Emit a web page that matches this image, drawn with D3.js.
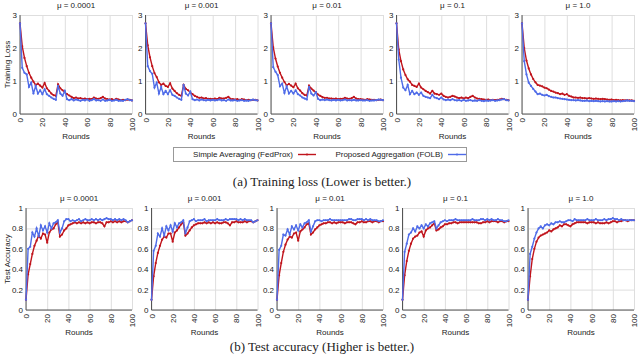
<!DOCTYPE html>
<html>
<head>
<meta charset="utf-8">
<script src="https://cdnjs.cloudflare.com/ajax/libs/d3/7.8.5/d3.min.js"></script>
<style>
body { margin: 0; background: #fff; }
text { font-family: "Liberation Sans", Arial, sans-serif; fill: #222; }
.caption { font-family: "Liberation Serif", "Times New Roman", serif; }
</style>
</head>
<body>
<script>
// rounds sampled every 2
const rounds = d3.range(0, 101, 2);
const muLabels = ["μ = 0.0001", "μ = 0.001", "μ = 0.01", "μ = 0.1", "μ = 1.0"];
const xTicks = [0, 20, 40, 60, 80, 100];
const lossTicks = [0, 1, 2, 3];
const accTicks = [0, 0.2, 0.4, 0.6, 0.8, 1];
const seriesNames = ["Simple Averaging (FedProx)", "Proposed Aggregation (FOLB)"];

// training loss
const lossProx1 = [2.75,2.05,1.70,1.45,1.25,1.10,0.98,0.88,0.92,0.86,
  0.80,0.94,0.78,0.70,0.62,0.57,0.55,0.90,0.78,0.72,
  0.66,0.60,0.56,0.52,0.48,0.50,0.47,0.48,0.46,0.47,
  0.45,0.46,0.45,0.50,0.47,0.46,0.48,0.52,0.47,0.45,
  0.44,0.45,0.43,0.46,0.44,0.42,0.43,0.42,0.44,0.43,0.41];
const lossFolb1 = [2.75,1.40,1.25,1.20,0.82,0.95,0.62,0.85,0.62,0.72,
  0.60,0.75,0.60,0.55,0.50,0.46,0.43,0.85,0.62,0.55,
  0.70,0.45,0.42,0.45,0.41,0.44,0.42,0.40,0.43,0.41,
  0.44,0.40,0.42,0.45,0.41,0.42,0.40,0.44,0.40,0.41,
  0.43,0.40,0.41,0.43,0.40,0.41,0.40,0.43,0.45,0.42,0.41];
const lossProx2 = [2.75,2.08,1.72,1.45,1.24,1.12,0.96,0.88,0.92,0.85,
  0.82,0.93,0.77,0.70,0.63,0.58,0.55,0.88,0.76,0.72,
  0.65,0.60,0.55,0.52,0.49,0.50,0.47,0.48,0.46,0.46,
  0.45,0.47,0.45,0.49,0.47,0.47,0.49,0.52,0.46,0.45,
  0.44,0.45,0.43,0.45,0.44,0.42,0.43,0.42,0.43,0.43,0.41];
const lossFolb2 = [2.75,1.45,1.30,1.22,0.80,0.95,0.62,0.82,0.60,0.70,
  0.60,0.72,0.58,0.55,0.50,0.46,0.43,0.88,0.62,0.56,
  0.68,0.45,0.42,0.44,0.41,0.44,0.42,0.41,0.43,0.41,
  0.43,0.41,0.42,0.44,0.41,0.42,0.40,0.44,0.41,0.41,
  0.42,0.40,0.41,0.42,0.40,0.41,0.40,0.42,0.44,0.42,0.41];
const lossProx3 = [2.75,2.02,1.68,1.44,1.25,1.10,0.97,0.87,0.91,0.86,
  0.81,0.92,0.78,0.71,0.63,0.58,0.56,0.86,0.77,0.71,
  0.66,0.59,0.55,0.51,0.49,0.49,0.47,0.47,0.46,0.47,
  0.45,0.46,0.46,0.49,0.47,0.46,0.48,0.52,0.47,0.45,
  0.45,0.44,0.43,0.45,0.44,0.43,0.43,0.42,0.43,0.44,0.42];
const lossFolb3 = [2.75,1.42,1.28,1.18,0.84,0.92,0.64,0.84,0.62,0.70,
  0.62,0.72,0.60,0.56,0.50,0.47,0.44,0.82,0.62,0.56,
  0.66,0.46,0.42,0.44,0.42,0.44,0.42,0.41,0.43,0.41,
  0.43,0.41,0.42,0.44,0.41,0.42,0.41,0.43,0.41,0.41,
  0.42,0.41,0.41,0.42,0.40,0.41,0.41,0.42,0.44,0.43,0.42];
const lossProx4 = [2.75,1.95,1.60,1.35,1.18,1.05,0.98,0.88,0.85,0.82,
  0.92,0.80,0.75,0.70,0.66,0.62,0.70,0.62,0.60,0.58,
  0.62,0.55,0.52,0.50,0.52,0.55,0.53,0.50,0.48,0.50,
  0.47,0.50,0.48,0.52,0.55,0.50,0.47,0.46,0.45,0.44,
  0.43,0.44,0.42,0.43,0.42,0.43,0.44,0.46,0.45,0.43,0.42];
const lossFolb4 = [2.75,1.65,1.10,0.80,0.72,0.88,0.60,0.70,0.60,0.65,
  0.58,0.65,0.55,0.52,0.50,0.48,0.58,0.50,0.48,0.45,
  0.50,0.44,0.42,0.44,0.42,0.45,0.42,0.41,0.42,0.40,
  0.43,0.40,0.41,0.42,0.40,0.41,0.40,0.42,0.40,0.39,
  0.41,0.40,0.41,0.42,0.40,0.41,0.42,0.44,0.45,0.42,0.41];
const lossProx5 = [2.75,2.00,1.62,1.38,1.20,1.06,0.96,0.88,0.86,0.84,
  0.80,0.78,0.74,0.70,0.68,0.65,0.63,0.60,0.62,0.58,
  0.60,0.55,0.53,0.50,0.50,0.49,0.50,0.48,0.48,0.47,
  0.48,0.47,0.46,0.47,0.46,0.45,0.46,0.45,0.44,0.43,
  0.44,0.42,0.43,0.42,0.41,0.42,0.41,0.42,0.41,0.41,0.40];
const lossFolb5 = [2.75,1.60,1.20,0.95,0.85,0.76,0.68,0.60,0.62,0.58,
  0.56,0.58,0.54,0.52,0.50,0.50,0.48,0.47,0.46,0.45,
  0.44,0.43,0.42,0.42,0.41,0.42,0.41,0.40,0.40,0.41,
  0.39,0.40,0.39,0.40,0.39,0.38,0.39,0.38,0.39,0.38,
  0.38,0.39,0.38,0.39,0.38,0.39,0.40,0.41,0.40,0.40,0.39];

// test accuracy
const accProx1 = [0.10,0.35,0.45,0.55,0.63,0.68,0.73,0.70,0.75,0.74,
  0.66,0.76,0.79,0.80,0.84,0.86,0.72,0.74,0.78,0.80,
  0.83,0.84,0.85,0.86,0.85,0.86,0.85,0.86,0.85,0.86,
  0.85,0.86,0.86,0.85,0.86,0.86,0.85,0.82,0.86,0.86,
  0.87,0.86,0.87,0.86,0.87,0.86,0.87,0.87,0.86,0.87,0.88];
const accFolb1 = [0.10,0.60,0.62,0.76,0.72,0.80,0.72,0.83,0.78,0.82,
  0.76,0.85,0.80,0.85,0.86,0.88,0.76,0.80,0.87,0.89,
  0.89,0.87,0.88,0.87,0.88,0.89,0.87,0.88,0.89,0.88,
  0.88,0.89,0.88,0.89,0.88,0.89,0.88,0.89,0.90,0.89,
  0.89,0.88,0.89,0.88,0.89,0.88,0.89,0.88,0.86,0.87,0.88];
const accProx2 = [0.10,0.33,0.46,0.56,0.63,0.69,0.72,0.71,0.75,0.75,
  0.67,0.76,0.78,0.81,0.84,0.86,0.73,0.75,0.78,0.81,
  0.83,0.84,0.85,0.85,0.85,0.86,0.85,0.86,0.85,0.86,
  0.85,0.86,0.85,0.85,0.86,0.86,0.85,0.83,0.86,0.86,
  0.87,0.86,0.86,0.86,0.87,0.86,0.87,0.87,0.86,0.87,0.88];
const accFolb2 = [0.10,0.58,0.63,0.75,0.72,0.80,0.73,0.82,0.78,0.83,
  0.77,0.85,0.81,0.85,0.86,0.88,0.75,0.81,0.87,0.88,
  0.89,0.87,0.88,0.88,0.88,0.89,0.87,0.88,0.88,0.88,
  0.88,0.89,0.88,0.88,0.88,0.89,0.88,0.89,0.89,0.89,
  0.89,0.88,0.89,0.88,0.89,0.88,0.88,0.88,0.86,0.87,0.88];
const accProx3 = [0.10,0.34,0.46,0.57,0.64,0.69,0.72,0.71,0.75,0.76,
  0.68,0.77,0.79,0.81,0.84,0.85,0.74,0.76,0.79,0.81,
  0.83,0.84,0.85,0.85,0.86,0.86,0.85,0.86,0.85,0.86,
  0.86,0.86,0.85,0.86,0.86,0.86,0.85,0.84,0.86,0.86,
  0.87,0.86,0.86,0.87,0.87,0.86,0.87,0.87,0.86,0.87,0.87];
const accFolb3 = [0.10,0.59,0.63,0.74,0.73,0.79,0.74,0.82,0.79,0.83,
  0.78,0.84,0.81,0.85,0.86,0.88,0.77,0.82,0.87,0.88,
  0.88,0.87,0.88,0.88,0.88,0.89,0.88,0.88,0.88,0.88,
  0.88,0.88,0.88,0.88,0.89,0.89,0.88,0.88,0.89,0.89,
  0.89,0.88,0.89,0.88,0.89,0.88,0.88,0.88,0.87,0.87,0.88];
const accProx4 = [0.10,0.34,0.48,0.58,0.65,0.70,0.72,0.73,0.76,0.77,
  0.72,0.78,0.80,0.81,0.83,0.85,0.78,0.79,0.81,0.82,
  0.84,0.84,0.85,0.85,0.86,0.86,0.85,0.86,0.86,0.86,
  0.86,0.86,0.86,0.86,0.86,0.86,0.85,0.85,0.86,0.86,
  0.87,0.86,0.87,0.87,0.87,0.86,0.87,0.87,0.86,0.87,0.87];
const accFolb4 = [0.10,0.57,0.65,0.74,0.76,0.80,0.77,0.82,0.80,0.83,
  0.80,0.84,0.82,0.85,0.86,0.87,0.80,0.83,0.86,0.87,
  0.88,0.87,0.88,0.88,0.88,0.89,0.88,0.88,0.88,0.88,
  0.88,0.88,0.88,0.89,0.88,0.88,0.88,0.89,0.89,0.88,
  0.89,0.88,0.89,0.88,0.88,0.89,0.88,0.88,0.87,0.87,0.88];
const accProx5 = [0.10,0.33,0.50,0.60,0.67,0.71,0.73,0.74,0.75,0.76,
  0.78,0.77,0.79,0.80,0.81,0.83,0.82,0.84,0.84,0.83,
  0.82,0.84,0.85,0.86,0.86,0.86,0.86,0.86,0.85,0.86,
  0.86,0.86,0.85,0.86,0.85,0.85,0.85,0.86,0.85,0.86,
  0.87,0.87,0.86,0.87,0.87,0.88,0.88,0.87,0.88,0.88,0.88];
const accFolb5 = [0.10,0.55,0.62,0.70,0.76,0.80,0.82,0.80,0.83,0.84,
  0.83,0.85,0.84,0.86,0.86,0.87,0.86,0.86,0.87,0.88,
  0.88,0.87,0.89,0.88,0.88,0.88,0.88,0.88,0.89,0.88,
  0.88,0.88,0.89,0.88,0.88,0.88,0.89,0.88,0.89,0.89,
  0.90,0.89,0.89,0.88,0.89,0.88,0.88,0.88,0.88,0.88,0.88];

const proxColor = "#c0141c";
const folbColor = "#4f6be8";

const svg = d3.select("body").append("svg")
            .attr("width", 640)
            .attr("height", 363);

const rows = [
  {top: 15, bottom: 114, left: 20, width: 112, yMax: 3, ticks: lossTicks,
   fmt: d3.format("d"), label: "Training Loss", titleY: 8, roundsY: 139,
   prox: [lossProx1, lossProx2, lossProx3, lossProx4, lossProx5],
   folb: [lossFolb1, lossFolb2, lossFolb3, lossFolb4, lossFolb5]},
  {top: 208, bottom: 310, left: 26, width: 106, yMax: 1, ticks: accTicks,
   fmt: d => (d === 0 || d === 1) ? d : d3.format(".1f")(d), label: "Test Accuracy", titleY: 201, roundsY: 335,
   prox: [accProx1, accProx2, accProx3, accProx4, accProx5],
   folb: [accFolb1, accFolb2, accFolb3, accFolb4, accFolb5]}
];
const step = 125.5;

rows.forEach(function(row) {
  muLabels.forEach(function(mu, p) {
    const left = row.left + p * step;
    const x = d3.scaleLinear().domain([0, 100]).range([left, left + row.width]);
    const y = d3.scaleLinear().domain([0, row.yMax]).range([row.bottom, row.top]);
    const g = svg.append("g");

    // grid + x labels
    g.append("g")
     .attr("transform", `translate(0, ${row.bottom})`)
     .call(d3.axisBottom(x).tickValues(xTicks).tickSize(-(row.bottom - row.top)))
     .call(a => a.select(".domain").remove())
     .call(a => a.selectAll("line").attr("stroke", "#dedede"))
     .selectAll("text")
     .attr("transform", "rotate(-90)")
     .attr("x", -4).attr("y", 0).attr("dy", "0.32em")
     .style("text-anchor", "end")
     .style("font-size", "8px");

    g.append("g")
     .attr("transform", `translate(${left}, 0)`)
     .call(d3.axisLeft(y).tickValues(row.ticks).tickFormat(row.fmt)
           .tickSize(-row.width).tickPadding(3))
     .call(a => a.select(".domain").remove())
     .call(a => a.selectAll("line").attr("stroke", "#dedede"))
     .selectAll("text").style("font-size", "8px");

    // axis lines
    g.append("line").attr("x1", left).attr("x2", left)
     .attr("y1", row.top).attr("y2", row.bottom).attr("stroke", "#555");
    g.append("line").attr("x1", left).attr("x2", left + row.width)
     .attr("y1", row.bottom).attr("y2", row.bottom).attr("stroke", "#555");

    // title
    g.append("text").attr("x", left + row.width / 2).attr("y", row.titleY)
     .attr("text-anchor", "middle").style("font-size", "8px").text(mu);
    g.append("text").attr("x", left + row.width / 2).attr("y", row.roundsY)
     .attr("text-anchor", "middle").style("font-size", "8px").text("Rounds");

    const line = d3.line().x((d, i) => x(rounds[i])).y(d => y(d));
    [[row.prox[p], proxColor], [row.folb[p], folbColor]].forEach(function(s) {
      g.append("path").datum(s[0])
       .attr("d", line).attr("fill", "none")
       .attr("stroke", s[1]).attr("stroke-width", 1.4);
      g.selectAll(null).data(s[0]).enter().append("circle")
       .attr("cx", (d, i) => x(rounds[i]))
       .attr("cy", d => y(d))
       .attr("r", 1.1).attr("fill", s[1]);
    });
  });

  // y label
  svg.append("text")
     .attr("transform", `translate(7, ${(row.top + row.bottom) / 2}) rotate(-90)`)
     .attr("text-anchor", "middle").attr("dy", "0.32em")
     .style("font-size", "8px").text(row.label);
});

// Legend
const legend = svg.append("g");
legend.append("rect").attr("x", 173.5).attr("y", 147.5)
      .attr("width", 293).attr("height", 14)
      .attr("fill", "none").attr("stroke", "#999");
const legendItems = [[seriesNames[0], proxColor, 293], [seriesNames[1], folbColor, 443]];
legendItems.forEach(function(it) {
  legend.append("text").attr("x", it[2]).attr("y", 154.5).attr("dy", "0.32em")
        .attr("text-anchor", "end").style("font-size", "8px").text(it[0]);
  legend.append("line").attr("x1", it[2] + 5).attr("x2", it[2] + 23)
        .attr("y1", 154.5).attr("y2", 154.5)
        .attr("stroke", it[1]).attr("stroke-width", 1.4);
  legend.append("circle").attr("cx", it[2] + 14).attr("cy", 154.5)
        .attr("r", 1.1).attr("fill", it[1]);
});

// captions
svg.append("text").attr("class", "caption").attr("x", 322).attr("y", 186)
   .attr("text-anchor", "middle").style("font-size", "13px")
   .text("(a) Training loss (Lower is better.)");
svg.append("text").attr("class", "caption").attr("x", 322).attr("y", 351)
   .attr("text-anchor", "middle").style("font-size", "13px")
   .text("(b) Test accuracy (Higher is better.)");
</script>
</body>
</html>
